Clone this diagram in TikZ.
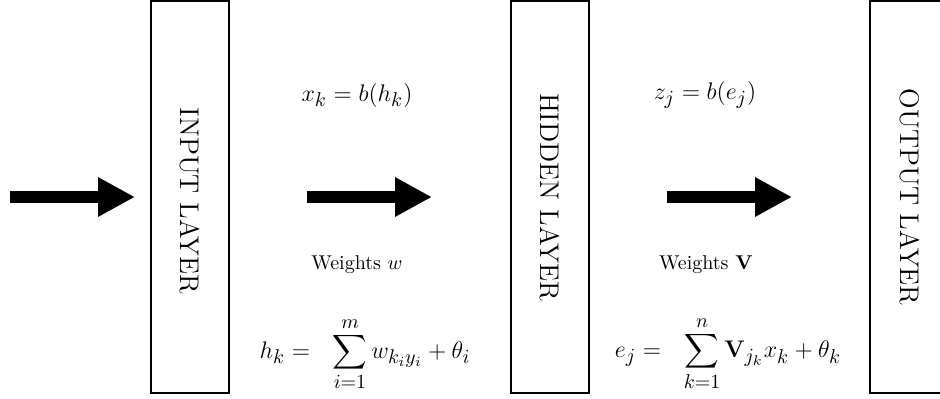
\documentclass[tikz,border=0pt]{standalone}
\usepackage{amsmath}
\DeclareMathSizes{12}{12}{10}{7.5}
\DeclareMathSizes{10}{10}{7}{5}
\usetikzlibrary{arrows.meta}
\begin{document}
\begin{tikzpicture}[x=0.5pt,y=-0.5pt,
  layerbox/.style={draw=black,line width=1pt,rectangle,inner sep=0pt,fill=white},
  layertext/.style={rotate=-90,font=\fontsize{13.5}{16}\selectfont,inner sep=0pt},
  formula/.style={font=\fontsize{12}{14}\selectfont,inner sep=0pt},
  wlabel/.style={font=\fontsize{10}{12}\selectfont,inner sep=0pt},
  bigarrow/.style={line width=6pt,-{Triangle[length=18.5pt,width=18.5pt]},shorten >=0pt}]
\useasboundingbox (0,0) rectangle (940,398);
\clip (0,0) rectangle (940,398);
% boxes
\node[layerbox,minimum width=39.25pt,minimum height=196pt] (inbox) at (189.75,197) {};
\node[layerbox,minimum width=39pt,minimum height=196pt] (hidbox) at (550,197) {};
\node[layerbox,minimum width=40pt,minimum height=196pt] (outbox) at (910,197) {};
\node[layertext] (intext) at (190,201) {INPUT LAYER};
\node[layertext] (hidtext) at (550,197) {HIDDEN LAYER};
\node[layertext] (outtext) at (910,197) {OUTPUT LAYER};
% arrows
\coordinate (a1s) at (10,197);
\coordinate (a1e) at (135,197);
\coordinate (a2s) at (307,197);
\coordinate (a2e) at (432,197);
\coordinate (a3s) at (667,197);
\coordinate (a3e) at (792,197);
\draw[bigarrow] (a1s) -- (a1e);
\draw[bigarrow] (a2s) -- (a2e);
\draw[bigarrow] (a3s) -- (a3e);
% formulas
\node[formula] (xk) at (357,95) {$x_k = b(h_k)$};
\node[formula] (zj) at (705,95) {$z_j = b(e_j)$};
\node[wlabel] (ww) at (357,265) {Weights $w$};
\node[wlabel] (wv) at (706,265) {Weights $\mathbf{V}$};
\node[formula] (hk) at (365,354) {$h_k =\hspace{8pt} \displaystyle\sum_{i=1}^{m} w_{k_i y_i} + \theta_i$};
\node[formula] (ej) at (728,354) {$e_j =\hspace{8pt} \displaystyle\sum_{k=1}^{n} \mathbf{V}_{j_k} x_k + \theta_k$};
\end{tikzpicture}
\end{document}
